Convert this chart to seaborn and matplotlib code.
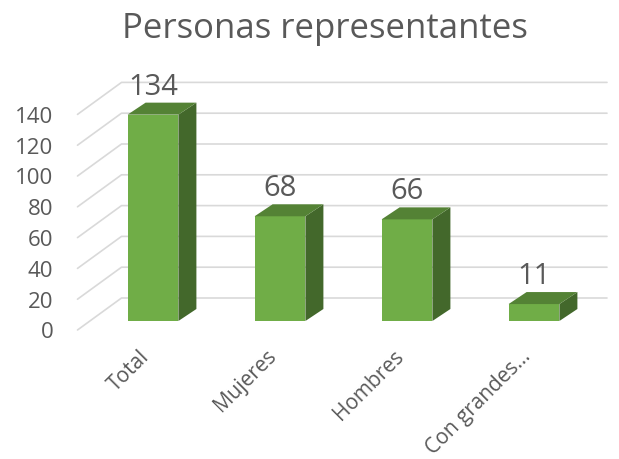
import matplotlib
matplotlib.use("Agg")
import matplotlib.pyplot as plt
from matplotlib.patches import Polygon
import pandas as pd
import seaborn as sns

# data
categorias = ['Total', 'Mujeres', 'Hombres', 'Con grandes…']
personas = [134, 68, 66, 11]
ticks_y = [0, 20, 40, 60, 80, 100, 120, 140]
titulo = 'Personas representantes'

df = pd.DataFrame({'categoria': categorias, 'personas': personas})

sns.set_theme(style='white')
plt.rcParams['font.family'] = ['Open Sans', 'DejaVu Sans']

W, H = 619, 459
fig = plt.figure(figsize=(W / 100, H / 100), dpi=100)

# axes = the plane of the bar fronts; the 3D look is faked with offsets
ax = fig.add_axes([89.5 / W, 138 / H, 508 / W, 231 / H])

verde = '#70AD47'
verde_top = '#548235'
verde_lado = '#43682B'
gris_txt = '#595959'
gris_grid = '#D9D9D9'
ancho = 0.40

sns.barplot(data=df, x='categoria', y='personas', order=categorias,
            color=verde, saturation=1, width=ancho, linewidth=0,
            ax=ax, zorder=3)
ax.set_xlim(-0.5, 3.5)
ax.set_ylim(0, 150)
ax.axis('off')

# pixel -> data units
px_x = 508 / 4.0
px_y = 231 / 150.0
prof_x, prof_y = 18 / px_x, 12 / px_y          # bar depth
fondo_x, fondo_y = 32 / px_x, 23 / px_y        # back wall
frente_x, frente_y = -12 / px_x, -9 / px_y     # label plane
x_der = (607 - 89.5) / px_x - 0.5

# gridlines: diagonal on the side wall, then along the back wall
for v in ticks_y:
    ax.plot([-0.5 + frente_x, -0.5 + fondo_x, x_der],
            [v + frente_y, v + fondo_y, v + fondo_y],
            color=gris_grid, lw=1.2, zorder=1, clip_on=False)
    ax.text(-0.5 + frente_x - 24 / px_x, v + frente_y - 3 / px_y, str(v),
            ha='right', va='center', fontsize=16, color=gris_txt)

# top and side faces of each bar
for i, h in enumerate(personas):
    x0, x1 = i - ancho / 2, i + ancho / 2
    lado = Polygon([(x1, 0), (x1 + prof_x, prof_y), (x1 + prof_x, h + prof_y), (x1, h)],
                   closed=True, facecolor=verde_lado, edgecolor='none', zorder=3)
    tapa = Polygon([(x0, h), (x1, h), (x1 + prof_x, h + prof_y), (x0 + prof_x, h + prof_y)],
                   closed=True, facecolor=verde_top, edgecolor='none', zorder=3)
    ax.add_patch(lado)
    ax.add_patch(tapa)
    ax.text(i, h + 20 / px_y, str(h), ha='center', va='baseline',
            fontsize=21, color=gris_txt, zorder=4)
    ax.text(i - 14 / px_x, -25 / px_y, categorias[i], rotation=45,
            rotation_mode='anchor', ha='right', va='top',
            fontsize=15, color=gris_txt)

fig.text(325 / W, 1 - 29 / H, titulo, ha='center', va='center',
         fontsize=25, color=gris_txt)

fig.savefig('out.png', dpi=100)
